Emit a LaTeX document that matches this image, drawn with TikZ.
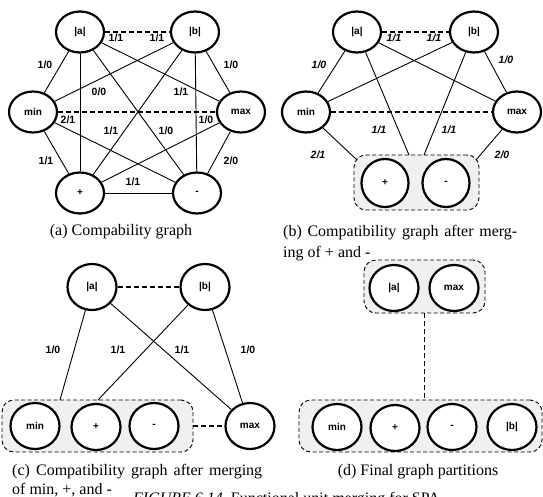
\documentclass[tikz,border=0pt]{standalone}
\usepackage{fontspec}
\setmainfont{Liberation Serif}
\newfontfamily\labfont{Liberation Sans}
\usetikzlibrary{shapes.geometric}
\tikzset{
 fu/.style={ellipse, draw, line width=2.2pt, fill=white, minimum width=48pt, minimum height=41pt, inner sep=0pt, font=\labfont\bfseries\fontsize{10}{12}\selectfont},
 fuc/.style={fu, minimum width=49pt, minimum height=46pt},
 edge/.style={line width=0.9pt},
 dedge/.style={line width=1.4pt, dash pattern=on 5pt off 3pt},
 grp/.style={draw, rectangle, rounded corners=12pt, fill=black!6, line width=0.9pt, dash pattern=on 4pt off 2.5pt, inner sep=0pt},
 lbl/.style={font=\labfont\bfseries\fontsize{10.5}{12}\selectfont, inner sep=0pt},
 lbli/.style={font=\labfont\bfseries\itshape\fontsize{10.5}{12}\selectfont, inner sep=0pt},
 captext/.style={font=\fontsize{16}{19}\selectfont, inner sep=0pt, anchor=base west},
}
\begin{document}
\begin{tikzpicture}[x=1pt,y=-1pt]
\useasboundingbox (0,0) rectangle (543,497);
\begin{scope}
\clip (0,0) rectangle (543,497);
% ---------------- (a)
\node[fu] (a1) at (80,32) {|a|};
\node[fu] (b1) at (195,32) {|b|};
\node[fu] (min1) at (33,112) {min};
\node[fu] (max1) at (241,112) {max};
\node[fu] (p1) at (80,193) {+};
\node[fu] (m1) at (197,193) {-};
\draw[dedge] (a1) -- (b1);
\draw[dedge] (min1) -- (max1);
\draw[edge] (a1) -- (min1);
\draw[edge] (a1) -- (p1);
\draw[edge] (a1) -- (max1);
\draw[edge] (a1) -- (m1);
\draw[edge] (b1) -- (min1);
\draw[edge] (b1) -- (p1);
\draw[edge] (b1) -- (m1);
\draw[edge] (b1) -- (max1);
\draw[edge] (min1) -- (p1);
\draw[edge] (min1) -- (m1);
\draw[edge] (max1) -- (p1);
\draw[edge] (max1) -- (m1);
\draw[edge] (p1) -- (m1);
\node[lbl] at (116,38) {1/1};
\node[lbl] at (157,38) {1/1};
\node[lbl] at (45,65) {1/0};
\node[lbl] at (231,65) {1/0};
\node[lbl] at (99,92) {0/0};
\node[lbl] at (181,92) {1/1};
\node[lbl] at (68,120) {2/1};
\node[lbl] at (206,120) {1/0};
\node[lbl] at (111,131) {1/1};
\node[lbl] at (166,131) {1/0};
\node[lbl] at (46,161) {1/1};
\node[lbl] at (231,161) {2/0};
\node[lbl] at (133,182) {1/1};
\node[captext, anchor=base] at (121,235) {(a) Compability graph};
% ---------------- (b)
\node[grp, minimum width=125pt, minimum height=55pt] (gb) at (416.5,182.5) {};
\node[fu] (a2) at (357,32) {|a|};
\node[fu] (b2) at (474,32) {|b|};
\node[fu] (min2) at (306,112) {min};
\node[fu] (max2) at (517,112) {max};
\node[fu, minimum width=47pt, minimum height=48pt] (p2) at (385,183) {+};
\node[fu, minimum width=47pt, minimum height=48pt] (m2) at (446,183) {-};
\coordinate (gb1) at (409,155);
\coordinate (gb2) at (424,155);
\coordinate (gb3) at (357,160);
\coordinate (gb4) at (476,160);
\draw[dedge] (a2) -- (b2);
\draw[dedge] (min2) -- (max2);
\draw[edge] (a2) -- (min2);
\draw[edge] (b2) -- (max2);
\draw[edge] (a2) -- (max2);
\draw[edge] (b2) -- (min2);
\draw[edge] (a2) -- (gb1);
\draw[edge] (b2) -- (gb2);
\draw[edge] (min2) -- (gb3);
\draw[edge] (max2) -- (gb4);
\node[lbli] at (394,38) {1/1};
\node[lbli] at (434,38) {1/1};
\node[lbli] at (319,65) {1/0};
\node[lbli] at (506,60) {1/0};
\node[lbli] at (379,130) {1/1};
\node[lbli] at (449,130) {1/1};
\node[lbli] at (318,155) {2/1};
\node[lbli] at (502,155) {2/0};
\node[captext] at (283,236) {\makebox[234pt][s]{(b) Compatibility graph after merg-}};
\node[captext] at (283,257) {ing of + and -};
% ---------------- (c)
\node[grp, minimum width=191pt, minimum height=52pt] (gc) at (97.5,426) {};
\node[fuc] (a3) at (92,287) {|a|};
\node[fuc] (b3) at (205,287) {|b|};
\node[fuc] (min3) at (35,426) {min};
\node[fuc] (p3) at (96,427) {+};
\node[fuc] (m3) at (154,426) {-};
\node[fuc] (max3) at (250,426) {max};
\coordinate (gc1) at (60,400);
\coordinate (gc2) at (98,400);
\draw[dedge] (a3) -- (b3);
\draw[dedge] (gc.east) -- (max3);
\draw[edge] (a3) -- (gc1);
\draw[edge] (b3) -- (gc2);
\draw[edge] (a3) -- (max3);
\draw[edge] (b3) -- (max3);
\node[lbl] at (53,350) {1/0};
\node[lbl] at (118,350) {1/1};
\node[lbl] at (182,350) {1/1};
\node[lbl] at (248,350) {1/0};
\node[captext] at (12,475) {\makebox[250pt][s]{(c) Compatibility graph after merging}};
\node[captext] at (12,494) {of min, +, and -};
% ---------------- (d)
\node[grp, minimum width=121pt, minimum height=53pt] (gd1) at (424.5,286.5) {};
\node[grp, minimum width=243pt, minimum height=52pt] (gd2) at (420.5,426) {};
\node[fuc] (a4) at (394,288) {|a|};
\node[fuc] (max4) at (454,288) {max};
\node[fuc] (min4) at (337,427) {min};
\node[fuc] (p4) at (395,428) {+};
\node[fuc] (m4) at (452,427) {-};
\node[fuc] (b4) at (512,427) {|b|};
\draw[dedge] (gd1.south) -- (gd1.south |- gd2.north);
\node[captext, anchor=base] at (418,475) {(d) Final graph partitions};
% ---------------- figure caption (cut off at the bottom edge, as in the reference)
\node[captext] at (133,503) {\textit{FIGURE 6.14}\enspace Functional unit merging for SPA};
\end{scope}
\end{tikzpicture}
\end{document}
